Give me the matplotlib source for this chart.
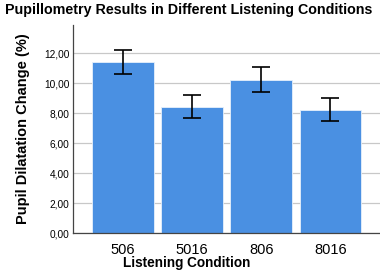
import matplotlib
matplotlib.use("Agg")
import matplotlib.pyplot as plt
import numpy as np

conditions = ["506", "5016", "806", "8016"]
means = [11.38, 8.40, 10.22, 8.22]
err_low = [10.60, 7.67, 9.40, 7.45]
err_high = [12.18, 9.18, 11.09, 9.02]
y_ticks = [0, 2, 4, 6, 8, 10, 12]
y_tick_labels = ["0,00", "2,00", "4,00", "6,00", "8,00", "10,00", "12,00"]

plt.rcParams["font.family"] = ["Liberation Sans", "DejaVu Sans"]

fig = plt.figure(figsize=(3.8, 2.73), dpi=100)
ax = fig.add_axes([0.193, 0.1465, 0.807, 0.7615])

x = np.arange(len(conditions))
means_a = np.array(means)
yerr = [means_a - np.array(err_low), np.array(err_high) - means_a]

ax.bar(x, means, width=0.89, color="#4a90e2", edgecolor="#e6f0fb", linewidth=0.6, zorder=2)
ax.errorbar(x, means, yerr=yerr, fmt="none", ecolor="black", elinewidth=1.2,
            capsize=6.5, capthick=1.2, zorder=3)

ax.set_xlim(-0.72, 3.72)
ax.set_ylim(0, 13.87)
ax.set_yticks(y_ticks)
ax.set_yticklabels(y_tick_labels, fontsize=7.3)
ax.set_xticks(x)
ax.set_xticklabels(conditions, fontsize=10.5)
ax.tick_params(axis="both", length=0, pad=3)
ax.tick_params(axis="x", pad=7)

ax.yaxis.grid(True, color="#c8c8c8", linewidth=0.9, zorder=0)
ax.set_axisbelow(True)
for s in ["top", "right"]:
    ax.spines[s].set_visible(False)
for s in ["left", "bottom"]:
    ax.spines[s].set_color("#444444")
    ax.spines[s].set_linewidth(0.9)

# axis labels centred like the original (x label sits near figure centre)
fig.text(187 / 380, 0.012, "Listening Condition", ha="center", va="bottom",
         fontsize=9.8, fontweight="bold")
fig.text(23 / 380, 0.529, "Pupil Dilatation Change (%)", ha="center", va="center",
         rotation=90, fontsize=10.5, fontweight="bold")
fig.text(0.497, 0.99, "Pupillometry Results in Different Listening Conditions",
         ha="center", va="top", fontsize=10.3, fontweight="bold")

fig.savefig("out.png", dpi=100)
